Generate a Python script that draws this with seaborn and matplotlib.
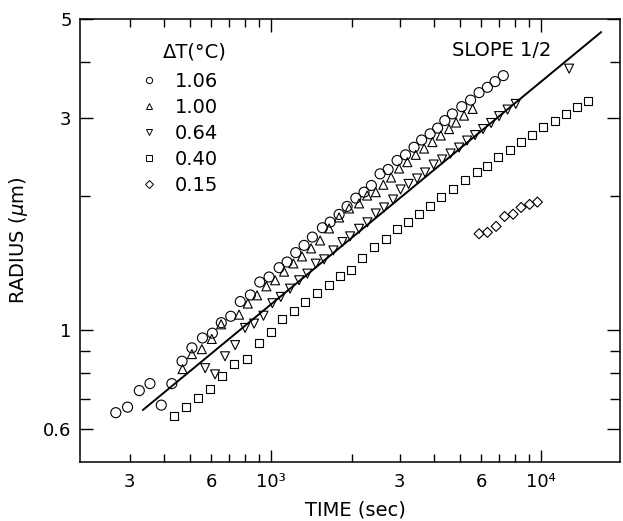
import numpy as np
import pandas as pd
import seaborn as sns
import matplotlib.pyplot as plt
from matplotlib.lines import Line2D
from matplotlib.ticker import FixedLocator, FixedFormatter

# growth data, time in s, radius in um, one pair of lists per dT
t_106 = [266, 294, 325, 356, 392, 429, 468, 509, 557, 606, 654, 709, 769, 838, 908,
         983, 1071, 1146, 1234, 1325, 1422, 1549, 1654, 1786, 1912, 2060, 2210, 2352,
         2533, 2713, 2929, 3148, 3385, 3610, 3881, 4138, 4399, 4693, 5085, 5482, 5893,
         6326, 6755, 7244]
r_106 = [0.653, 0.672, 0.732, 0.759, 0.679, 0.759, 0.852, 0.913, 0.961, 0.985, 1.040,
         1.075, 1.160, 1.200, 1.283, 1.317, 1.382, 1.423, 1.494, 1.551, 1.619, 1.699,
         1.749, 1.820, 1.897, 1.980, 2.042, 2.114, 2.245, 2.296, 2.406, 2.477, 2.576,
         2.674, 2.761, 2.844, 2.957, 3.061, 3.178, 3.287, 3.417, 3.512, 3.617, 3.731]

t_100 = [470, 509, 554, 603, 653, 761, 820, 887, 961, 1035, 1117, 1209, 1302, 1407, 1519,
         1640, 1786, 1945, 2118, 2268, 2442, 2605, 2783, 2979, 3197, 3435, 3688, 3958,
         4251, 4563, 4844, 5186, 5577]
r_100 = [0.818, 0.884, 0.907, 0.956, 1.031, 1.084, 1.148, 1.198, 1.255, 1.295, 1.354,
         1.413, 1.465, 1.527, 1.591, 1.693, 1.792, 1.877, 1.927, 2.007, 2.042, 2.122,
         2.203, 2.308, 2.385, 2.477, 2.559, 2.646, 2.737, 2.830, 2.927, 3.034, 3.141]

t_064 = [570, 620, 675, 736, 801, 865, 937, 1011, 1086, 1176, 1270, 1363, 1464, 1572,
         1701, 1837, 1962, 2118, 2274, 2442, 2621, 2831, 3017, 3230, 3473, 3719, 4000,
         4299, 4622, 4970, 5321, 5696, 6099, 6529, 6989, 7513, 8058, 12700]
r_064 = [0.822, 0.796, 0.874, 0.926, 1.012, 1.035, 1.078, 1.150, 1.188, 1.240, 1.295,
         1.340, 1.411, 1.443, 1.511, 1.578, 1.625, 1.690, 1.747, 1.829, 1.887, 1.966,
         2.071, 2.131, 2.192, 2.261, 2.356, 2.418, 2.494, 2.572, 2.667, 2.744, 2.830,
         2.920, 3.026, 3.130, 3.223, 3.868]

t_040 = [437, 484, 538, 594, 658, 726, 813, 903, 996, 1101, 1217, 1336, 1484, 1640, 1801,
         1970, 2178, 2407, 2660, 2922, 3217, 3533, 3881, 4273, 4710, 5208, 5794, 6326,
         6930, 7678, 8411, 9286, 10200, 11240, 12350, 13630, 14930]
r_040 = [0.641, 0.672, 0.705, 0.739, 0.789, 0.839, 0.864, 0.937, 0.990, 1.062, 1.106,
         1.158, 1.212, 1.266, 1.321, 1.367, 1.453, 1.537, 1.606, 1.684, 1.749, 1.827,
         1.900, 1.990, 2.078, 2.175, 2.261, 2.344, 2.446, 2.542, 2.644, 2.751, 2.856,
         2.957, 3.061, 3.167, 3.279]

t_015 = [5893, 6326, 6813, 7325, 7877, 8432, 9066, 9689]
r_015 = [1.647, 1.659, 1.711, 1.801, 1.822, 1.887, 1.917, 1.940]

# slope 1/2 reference line
line_t = [335, 16700]
line_r = [0.662, 4.674]

labels = ["1.06", "1.00", "0.64", "0.40", "0.15"]

sns.set_style("ticks")
plt.rcParams['font.family'] = ['DejaVu Sans']
plt.rcParams['text.color'] = 'black'
plt.rcParams['axes.labelcolor'] = 'black'
plt.rcParams['xtick.labelcolor'] = 'black'
plt.rcParams['ytick.labelcolor'] = 'black'

fig = plt.figure(figsize=(6.23, 5.21), dpi=100)
ax = fig.add_axes([80 / 623, 1 - 462 / 521, 540 / 623, 443 / 521])

series = [(t_106, r_106, 'o', 52), (t_100, r_100, '^', 42), (t_064, r_064, 'v', 42),
          (t_040, r_040, 's', 33), (t_015, r_015, 'D', 26)]
for t, r, m, s in series:
    sns.scatterplot(x=t, y=r, marker=m, s=s, facecolor='none', edgecolor='black',
                    linewidth=0.8, ax=ax, zorder=3)

sns.lineplot(x=line_t, y=line_r, color='black', linewidth=1.4, ax=ax)

ax.set_xscale('log')
ax.set_yscale('log')
ax.set_xlim(196, 19600)
ax.set_ylim(0.506, 5)

ax.xaxis.set_major_locator(FixedLocator([1000, 10000]))
ax.xaxis.set_major_formatter(FixedFormatter(["10³", "10⁴"]))
ax.xaxis.set_minor_locator(FixedLocator([300, 400, 500, 600, 700, 800, 900,
                                         2000, 3000, 4000, 5000, 6000, 7000, 8000, 9000]))
ax.xaxis.set_minor_formatter(FixedFormatter(["3", "", "", "6", "", "", "",
                                             "", "3", "", "", "6", "", "", ""]))
ax.yaxis.set_major_locator(FixedLocator([0.6, 1, 3, 5]))
ax.yaxis.set_major_formatter(FixedFormatter(["0.6", "1", "3", "5"]))
ax.yaxis.set_minor_locator(FixedLocator([0.7, 0.8, 0.9, 2, 4]))
ax.yaxis.set_minor_formatter(FixedFormatter(["", "", "", "", ""]))

ax.tick_params(which='both', direction='in', top=True, right=True, width=1,
               labelsize=13, color='black', labelcolor='black')
ax.tick_params(axis='x', which='major', length=9, pad=8)
ax.tick_params(axis='x', which='minor', length=5.5, pad=8)
ax.tick_params(axis='y', which='major', length=9.5, pad=6)
ax.tick_params(axis='y', which='minor', length=7.5)
for sp in ax.spines.values():
    sp.set_linewidth(1.1)
    sp.set_color('black')

ax.set_xlabel("TIME (sec)", fontsize=14, color='black')
ax.xaxis.set_label_coords((355 - 80) / 540, -0.086)
ax.set_ylabel("RADIUS ($\\mu$m)", fontsize=14, color='black')
ax.yaxis.set_label_coords(-0.093, 0.5)

ax.text(0.1537, 0.9255, "ΔT(°C)", transform=ax.transAxes, fontsize=14, va='center')
ax.text(0.6889, 0.930, "SLOPE 1/2", transform=ax.transAxes, fontsize=14, va='center')

handles = [Line2D([], [], ls='none', marker=m, markersize=ms, markerfacecolor='none',
                  markeredgecolor='black', markeredgewidth=0.7)
           for m, ms in zip(['o', '^', 'v', 's', 'D'], [4.5, 4.5, 4.5, 4.3, 4.0])]
leg = ax.legend(handles, labels, loc='upper left', bbox_to_anchor=(0.1098, 0.880),
                frameon=False, fontsize=14, handlelength=1.0, handletextpad=0.84,
                borderpad=0, borderaxespad=0, labelspacing=0.36)
for txt in leg.get_texts():
    txt.set_color('black')

fig.savefig('out.png', dpi=100)
